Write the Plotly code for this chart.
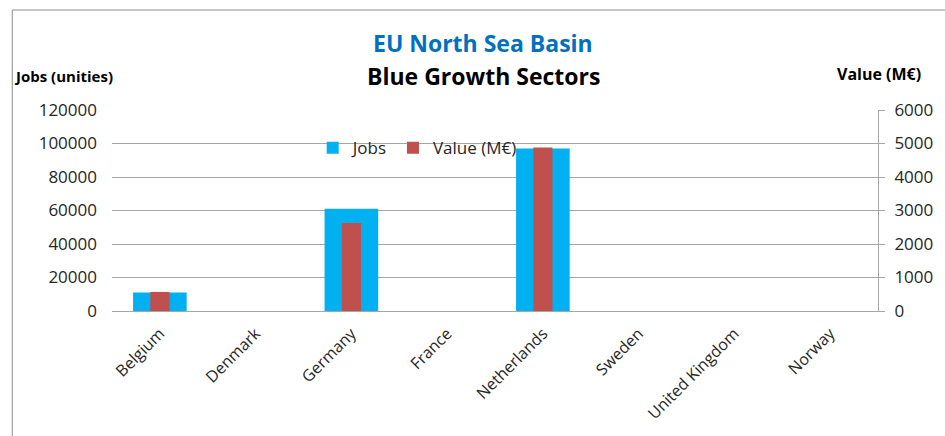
import plotly.graph_objs as go

countries = ['Belgium', 'Denmark', 'Germany', 'France', 'Netherlands', 'Sweden', 'United Kingdom', 'Norway']
jobs = [11000, 0, 61000, 0, 97000, 0, 0, 0]
value_meur = [570, 0, 2630, 0, 4880, 0, 0, 0]

font_family = 'Open Sans, Liberation Sans, sans-serif'
grid_color = '#A6A6A6'

trace0 = go.Bar(x=countries,
                y=jobs,
                name='Jobs',
                width=0.56,
                marker=dict(color='#00B0F0', line=dict(width=0)))

trace1 = go.Bar(x=countries,
                y=value_meur,
                name='Value (M€)',
                width=0.2,
                yaxis='y2',
                marker=dict(color='#C0504D', line=dict(width=0)))

layout = go.Layout(
    width=945,
    height=436,
    barmode='overlay',
    paper_bgcolor='white',
    plot_bgcolor='white',
    font=dict(family=font_family, size=14, color='#404040'),
    margin=dict(l=112, r=65, t=110, b=125),
    xaxis=dict(
        tickangle=-45,
        showline=True,
        linecolor=grid_color,
        linewidth=1,
        showgrid=False,
        ticklabelstandoff=6,
        tickfont=dict(size=16, color='#262626'),
    ),
    yaxis=dict(
        range=[0, 120000],
        dtick=20000,
        showgrid=True,
        gridcolor=grid_color,
        zeroline=False,
        showline=False,
        ticks='',
        ticklen=0,
        ticklabelstandoff=14,
        tickfont=dict(size=17, color='#262626'),
        tickformat='d',
    ),
    yaxis2=dict(
        range=[0, 6000],
        dtick=1000,
        overlaying='y',
        side='right',
        showgrid=False,
        zeroline=False,
        showline=True,
        linecolor=grid_color,
        ticks='outside',
        ticklen=6,
        tickcolor=grid_color,
        ticklabelstandoff=6,
        tickfont=dict(size=17, color='#262626'),
        tickformat='d',
    ),
    legend=dict(
        orientation='h',
        x=0.262,
        y=0.81,
        xanchor='left',
        yanchor='middle',
        bgcolor='rgba(0,0,0,0)',
        font=dict(size=17, color='#262626'),
        itemwidth=30,
        tracegroupgap=0,
    ),
    showlegend=True,
    annotations=[
        dict(text='<b>EU North Sea Basin</b>', x=0.5, y=43, xref='paper', yref='paper',
             showarrow=False, font=dict(size=23, color='#0070C0')),
        dict(text='<b>Blue Growth Sectors</b>', x=0.5, y=76, xref='paper', yref='paper',
             showarrow=False, font=dict(size=23, color='#000000')),
        dict(text='<b>Jobs (unities)</b>', x=12, y=76, xref='paper', yref='paper',
             showarrow=False, xanchor='left', font=dict(size=15, color='#000000')),
        dict(text='<b>Value (M€)</b>', x=925, y=74, xref='paper', yref='paper',
             showarrow=False, xanchor='right', font=dict(size=16, color='#000000')),
    ],
)

# annotation positions above are in pixels; convert to paper coordinates
plot_left, plot_w = 112, 945 - 112 - 65
plot_bottom, plot_h = 436 - 125, 436 - 110 - 125
for ann in layout.annotations:
    if ann.x > 1.5:
        ann.x = (ann.x - plot_left) / plot_w
    elif ann.x == 0.5:
        ann.x = (484 - plot_left) / plot_w
        ann.xanchor = 'center'
    ann.y = (plot_bottom - ann.y) / plot_h
    ann.yanchor = 'middle'

# chart border
layout.shapes = [dict(type='rect', xref='paper', yref='paper',
                      x0=(12 - plot_left) / plot_w, x1=(960 - plot_left) / plot_w,
                      y0=(plot_bottom - 460) / plot_h, y1=(plot_bottom - 10) / plot_h,
                      line=dict(color='#8C8C8C', width=1), layer='below')]

fig = go.Figure(data=[trace0, trace1], layout=layout)
fig.write_html('out.html', config={'displayModeBar': False},
               post_script="document.body.style.margin='0';")
